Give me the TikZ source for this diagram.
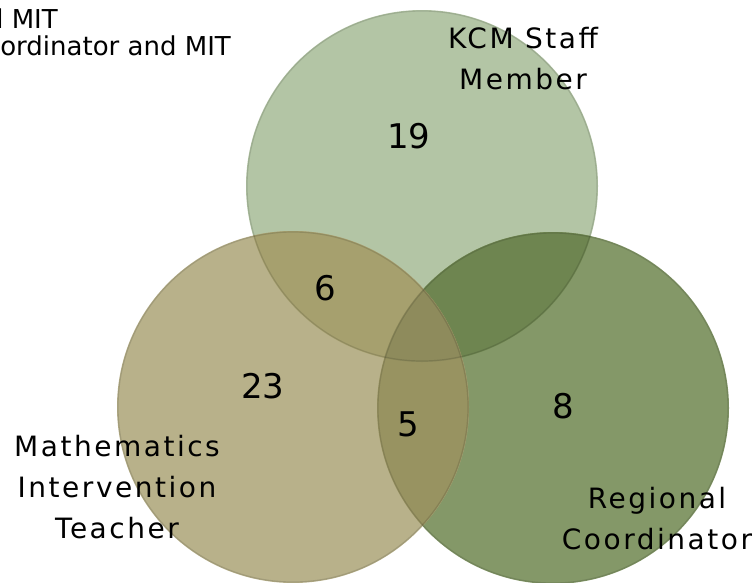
\documentclass[tikz,border=0pt]{standalone}
\usepackage{fontspec}
\setmainfont{DejaVu Sans}
\newfontfamily\lblfont[LetterSpace=9]{DejaVu Sans}

\definecolor{kcmfill}{HTML}{B3C5A5}
\definecolor{mitfill}{HTML}{B8B18A}
\definecolor{rcfill}{HTML}{849868}
\definecolor{kcmmitfill}{HTML}{A6A06E}
\definecolor{kcmrcfill}{HTML}{6E8550}
\definecolor{mitrcfill}{HTML}{989361}
\definecolor{allfill}{HTML}{8E8B5C}

\tikzset{
  setrim/.style={draw=black, draw opacity=0.12, line width=1.2pt},
  setlabel/.style={font=\lblfont\fontsize{28}{41}\selectfont, align=center, inner sep=0pt, anchor=north},
  count/.style={font=\fontsize{34}{40}\selectfont, inner sep=0pt},
  note/.style={font=\fontsize{26}{27}\selectfont, inner sep=0pt, anchor=base east}
}

\begin{document}
\begin{tikzpicture}[x=1pt, y=-1pt]
  \useasboundingbox (0,0) rectangle (754,582);

  % Set centres
  \coordinate (kcm) at (422,186);
  \coordinate (mit) at (293,407);
  \coordinate (rc) at (553,408);

  % Plain discs
  \fill[kcmfill] (kcm) circle[radius=176pt];
  \fill[rcfill] (rc) circle[radius=176pt];
  \fill[mitfill] (mit) circle[radius=176pt];

  % Overlaps
  \begin{scope}
    \clip (kcm) circle[radius=176pt];
    \fill[kcmrcfill] (rc) circle[radius=176pt];
    \fill[kcmmitfill] (mit) circle[radius=176pt];
  \end{scope}
  \begin{scope}
    \clip (rc) circle[radius=176pt];
    \fill[mitrcfill] (mit) circle[radius=176pt];
  \end{scope}
  \begin{scope}
    \clip (kcm) circle[radius=176pt];
    \clip (rc) circle[radius=176pt];
    \fill[allfill] (mit) circle[radius=176pt];
  \end{scope}

  % Rims
  \draw[setrim] (kcm) circle[radius=175pt];
  \draw[setrim] (rc) circle[radius=175pt];
  \draw[setrim] (mit) circle[radius=175pt];

  % Set names
  \node[setlabel] (kcmlabel) at (523,27) {KCM Staff\\Member};
  \node[setlabel] (mitlabel) at (117,435) {Mathematics\\Intervention\\Teacher};
  \node[setlabel] (rclabel) at (657,487) {Regional\\Coordinator};

  % Counts
  \node[count] (nkcm) at (409,136) {19};
  \node[count] (nkcmmit) at (325,288) {6};
  \node[count] (nmit) at (263,386) {23};
  \node[count] (nall) at (408,424) {5};
  \node[count] (nrc) at (563,406) {8};

  % Cut-off caption
  \node[note] (noteA) at (58,28) {l MIT};
  \node[note] (noteB) at (231,55) {ordinator and MIT};
\end{tikzpicture}
\end{document}
